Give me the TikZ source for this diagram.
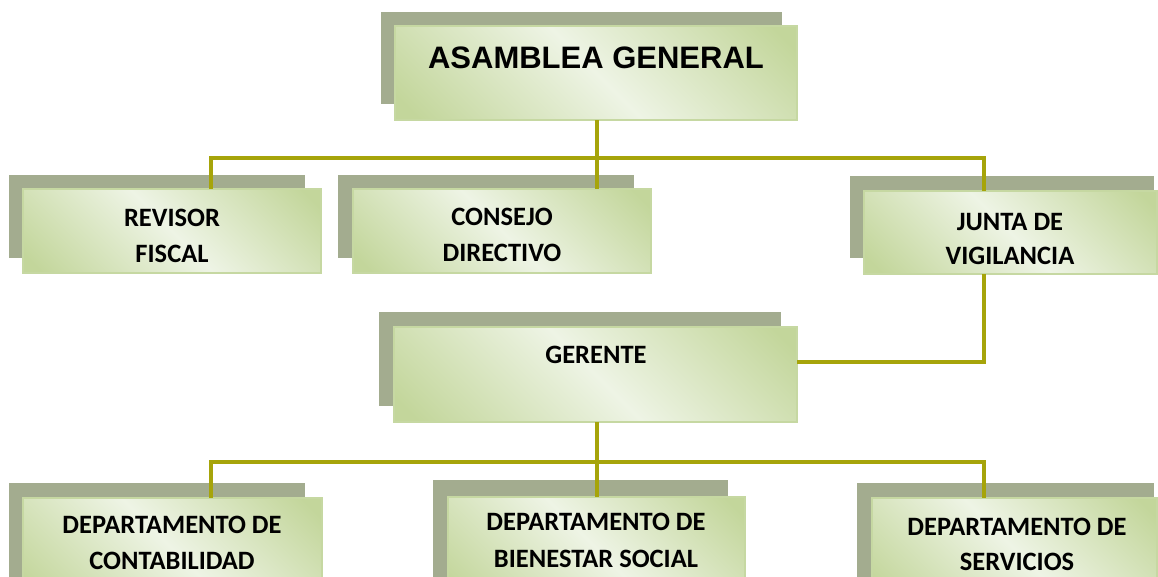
\documentclass[tikz,border=0pt]{standalone}
\usepackage{fontspec}
\setmainfont{Carlito}
\newfontfamily\arialf{Liberation Sans}
\definecolor{gL}{RGB}{238,244,229}
\definecolor{gD}{RGB}{195,214,155}
\definecolor{shd}{RGB}{163,172,143}
\definecolor{lnc}{RGB}{166,164,10}
\definecolor{bord}{RGB}{198,216,162}
\pgfdeclarehorizontalshading{gband}{100bp}{color(0bp)=(gD); color(18bp)=(gD); color(50bp)=(gL); color(82bp)=(gD); color(100bp)=(gD)}
\tikzset{
  frontbox/.style={draw=bord, line width=1.3pt, shading=gband, shading angle=45, inner sep=0pt, outer sep=0pt},
  shadowbox/.style={fill=shd, inner sep=0pt, outer sep=0pt},
  conn/.style={draw=lnc, line width=3.3pt},
  lbl/.style={font=\fontsize{26.5}{30}\selectfont\bfseries, anchor=base, inner sep=0pt},
  biglbl/.style={font=\arialf\fontsize{31}{36}\selectfont\bfseries, anchor=base, inner sep=0pt}
}
\begin{document}
\begin{tikzpicture}[x=1pt,y=-1pt]
\useasboundingbox (0,0) rectangle (1158,576);
\clip (0,0) rectangle (1158,576);
% shadows
\node[shadowbox, minimum width=401pt, minimum height=92pt] (asamS) at (581.5,58) {};
\node[shadowbox, minimum width=296pt, minimum height=83pt] (revisorS) at (157,216.5) {};
\node[shadowbox, minimum width=296pt, minimum height=83pt] (consejoS) at (486,216.5) {};
\node[shadowbox, minimum width=304pt, minimum height=82pt] (juntaS) at (1002,217) {};
\node[shadowbox, minimum width=402pt, minimum height=94pt] (gerenteS) at (580,359) {};
\node[shadowbox, minimum width=296pt, minimum height=117pt] (contS) at (157,541.5) {};
\node[shadowbox, minimum width=295pt, minimum height=120pt] (bienS) at (580.5,540) {};
\node[shadowbox, minimum width=297pt, minimum height=117pt] (servS) at (1005.5,541.5) {};
% front boxes
\node[frontbox, minimum width=402pt, minimum height=94pt] (asam) at (596,73) {};
\node[frontbox, minimum width=298pt, minimum height=84pt] (revisor) at (172,231) {};
\node[frontbox, minimum width=298pt, minimum height=84pt] (consejo) at (502,231) {};
\node[frontbox, minimum width=293pt, minimum height=83pt] (junta) at (1010.5,232.5) {};
\node[frontbox, minimum width=403pt, minimum height=95pt] (gerente) at (595.5,374.5) {};
\node[frontbox, minimum width=299pt, minimum height=102pt] (cont) at (172.5,549) {};
\node[frontbox, minimum width=297pt, minimum height=103pt] (bien) at (596.5,548.5) {};
\node[frontbox, minimum width=285pt, minimum height=102pt] (serv) at (1014.5,549) {};
% texts
\node[biglbl] (asamT) at (596,68) {ASAMBLEA GENERAL};
\node[lbl] (revT1) at (172,226) {REVISOR};
\node[lbl] (revT2) at (172,262) {FISCAL};
\node[lbl] (conT1) at (502,225) {CONSEJO};
\node[lbl] (conT2) at (502,261) {DIRECTIVO};
\node[lbl] (junT1) at (1010,230) {JUNTA DE};
\node[lbl] (junT2) at (1010,264) {VIGILANCIA};
\node[lbl] (gerT) at (596,363) {GERENTE};
\node[lbl] (ctT1) at (172,533) {DEPARTAMENTO DE};
\node[lbl] (ctT2) at (172,569) {CONTABILIDAD};
\node[lbl] (biT1) at (596,530) {DEPARTAMENTO DE};
\node[lbl] (biT2) at (596,567) {BIENESTAR SOCIAL};
\node[lbl] (seT1) at (1017,535) {DEPARTAMENTO DE};
\node[lbl] (seT2) at (1017,570) {SERVICIOS};
% connectors
\coordinate (busA) at (211,158);
\coordinate (busB) at (984,158);
\coordinate (busM) at (597,158);
\draw[conn] (asam.south -| busM) -- (busM |- consejo.north);
\draw[conn] (busA |- revisor.north) -- (busA) -- (busB) -- (busB |- junta.north);
\coordinate (jg) at (984,362);
\draw[conn] (jg |- junta.south) -- (jg) -- (jg -| gerente.east);
\coordinate (busC) at (211,462);
\coordinate (busD) at (984,462);
\coordinate (busN) at (597,462);
\draw[conn] (gerente.south -| busN) -- (busN |- bien.north);
\draw[conn] (busC |- cont.north) -- (busC) -- (busD) -- (busD |- serv.north);
\end{tikzpicture}
\end{document}
